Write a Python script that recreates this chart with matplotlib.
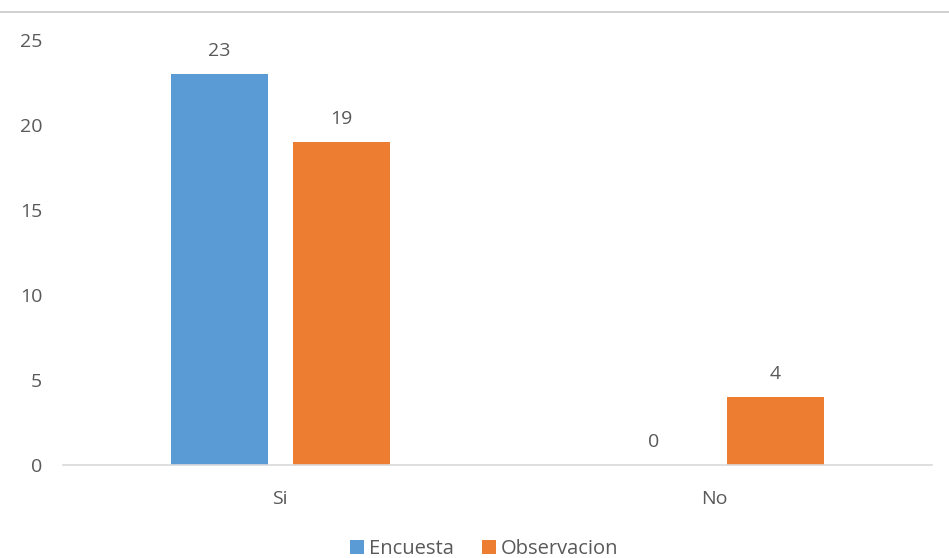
import matplotlib
matplotlib.use("Agg")
import matplotlib.pyplot as plt
from matplotlib.lines import Line2D
import numpy as np

categories = ["Si", "No"]
encuesta = [23, 0]
observacion = [19, 4]
series_names = ["Encuesta", "Observacion"]
colors = ["#5B9BD5", "#ED7D31"]

plt.rcParams['font.family'] = ['Open Sans', 'DejaVu Sans']
txt = "#595959"

fig = plt.figure(figsize=(9.49, 5.58), dpi=100)
ax = fig.add_axes([63/949, 1-465/558, (932-63)/949, (465-40)/558])

x = np.arange(len(categories))
w = 0.2235
off = 0.14
b1 = ax.bar(x - off, encuesta, w, color=colors[0], label=series_names[0])
b2 = ax.bar(x + off, observacion, w, color=colors[1], label=series_names[1])

for bars in (b1, b2):
    for r in bars:
        h = r.get_height()
        ax.annotate(f"{h:g}", (r.get_x() + r.get_width()/2, h), xytext=(0, 10),
                    textcoords="offset points", ha="center", va="bottom",
                    fontsize=14, color=txt)

ax.set_xlim(-0.5, 1.5)
ax.set_ylim(0, 25)
ax.set_yticks([0, 5, 10, 15, 20, 25])
ax.set_xticks(x)
ax.set_xticklabels(categories)
for s in ["top", "right", "left"]:
    ax.spines[s].set_visible(False)
ax.spines["bottom"].set_color("#d9d9d9")
ax.spines["bottom"].set_linewidth(1.2)
ax.tick_params(axis="both", length=0, labelsize=14, labelcolor=txt)
ax.tick_params(axis="y", pad=15)
ax.tick_params(axis="x", pad=18)

fig.add_artist(Line2D([0, 1], [1-12/558, 1-12/558], color="#c8c8c8", lw=1.2, transform=fig.transFigure))

fig.legend(handles=[b1, b2], labels=series_names, loc="center", bbox_to_anchor=(484/949, 1-549/558),
           ncol=2, frameon=False, fontsize=14.5, labelcolor=txt, handlelength=0.7, handleheight=0.7,
           handletextpad=0.25, columnspacing=1.4)

fig.savefig("out.png", dpi=100)
